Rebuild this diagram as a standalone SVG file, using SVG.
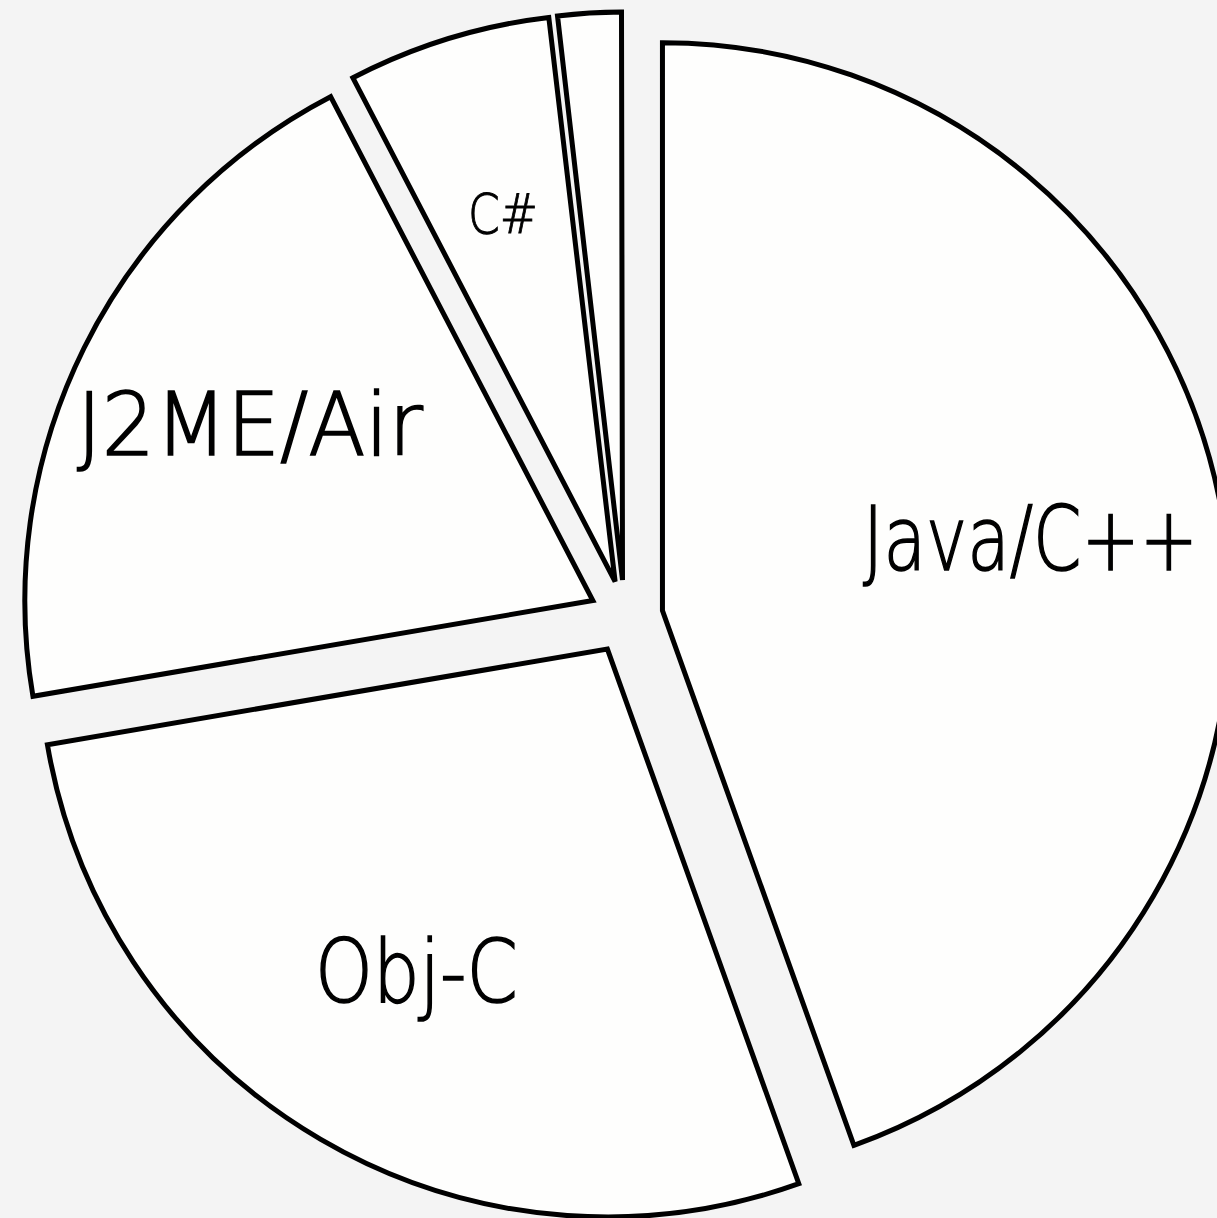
<svg xmlns="http://www.w3.org/2000/svg" width="1217" height="1218" viewBox="0 0 1217 1218">
<style>
.slice{fill:#fefefd;stroke:#000;stroke-width:5;stroke-linejoin:miter}
.lbl{font-family:"DejaVu Sans","Liberation Sans",sans-serif;font-weight:200;fill:#000;stroke:#000;stroke-width:1.6}
</style>
<rect width="1217" height="1218" fill="#f4f4f4"/>
<g id="java">
<path class="slice" d="M662.45,610.67 L662.45,42.67 A568,568 0 0 1 853.9,1145.4 Z"/>
<text class="lbl" x="863" y="570" font-size="89" textLength="335" lengthAdjust="spacingAndGlyphs">Java/C++</text>
</g>
<g id="objc">
<path class="slice" d="M607.33,648.95 L798.8,1183.7 A568,568 0 0 1 47.4,744.7 Z"/>
<text class="lbl" x="315" y="1002" font-size="88" textLength="203" lengthAdjust="spacingAndGlyphs">Obj-C</text>
</g>
<g id="j2me">
<path class="slice" d="M592.86,600.55 L32.96,696.3 A568,568 0 0 1 330.6,96.7 Z"/>
<text class="lbl" x="77" y="455" font-size="87" textLength="346" lengthAdjust="spacingAndGlyphs">J2ME/Air</text>
</g>
<g id="csharp">
<path class="slice" d="M615.12,581.64 L352.9,77.8 A568,568 0 0 1 548.8,17.5 Z"/>
<text class="lbl" x="468" y="233" font-size="56" textLength="70" lengthAdjust="spacingAndGlyphs" style="stroke-width:1">C#</text>
</g>
<g id="other">
<path class="slice" d="M622.5,580.06 L557.5,15.9 A568,568 0 0 1 621.5,12.06 Z"/>
</g>
<g id="connectors"></g>
</svg>
